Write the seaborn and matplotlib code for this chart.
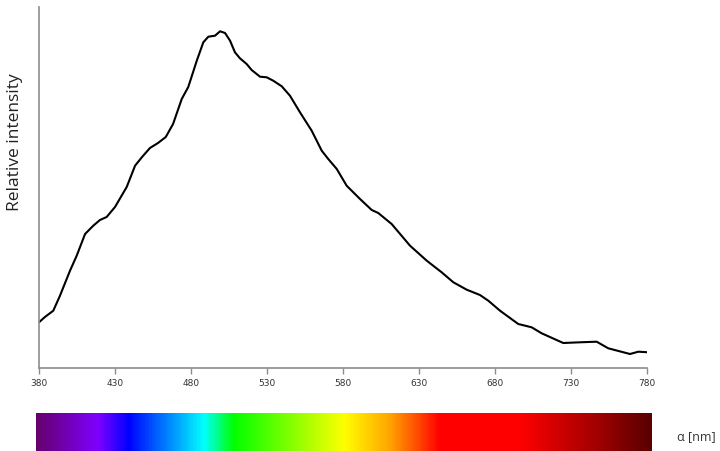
import numpy as np
import matplotlib
matplotlib.use("Agg")
import matplotlib.pyplot as plt
import seaborn as sns
import pandas as pd
from matplotlib.colors import LinearSegmentedColormap

sns.set_theme(style="white")
plt.rcParams['font.family'] = ['Open Sans', 'DejaVu Sans']

wavelength = [380, 383.9, 389.4, 393.8, 400.4, 404.8, 410.3, 415.7, 420.1, 424.5,
              430, 437.7, 443.2, 447.8, 453, 458.3, 463.4, 468.2, 473.9, 478.2,
              483.8, 488.1, 491.4, 495.8, 499.1, 502.4, 505.7, 508.9, 512.2, 516.6,
              519.9, 525.4, 529.8, 534.1, 539.7, 545.1, 551.7, 559.4, 566, 570.3,
              575.9, 582.4, 591.2, 598.9, 603.2, 612, 624.1, 635.1, 644.9, 652.6,
              661.4, 670.1, 675.6, 683.3, 695.3, 704.1, 710.7, 724.9, 735.9, 746.9,
              754.5, 768.8, 774.3, 780.9]
intensity = [45.7, 51, 57.3, 72.3, 97.3, 112.3, 134, 142.3, 148, 151,
             161, 181, 202.3, 211, 220, 225, 231, 244, 269, 281,
             307.3, 325.7, 331.3, 332.3, 336.7, 335, 327.3, 315.7, 309.7, 304,
             298, 291.3, 290.7, 287.3, 281.7, 272.3, 255.7, 237.3, 217.3, 209,
             199, 182.3, 169, 158, 155, 144, 122.3, 107.3, 95.7, 85.7,
             78.3, 73, 67.3, 57.3, 44, 40.7, 34.7, 25, 25.7, 26.3,
             19.7, 14, 16.3, 15.7]
xticks = [380, 430, 480, 530, 580, 630, 680, 730, 780]

spec_pos = [0.0, 0.0985, 0.149, 0.271, 0.320, 0.50, 0.575, 0.656, 0.786, 0.915, 1.0]
spec_col = ["#66006e", "#7f00ff", "#0000ff", "#00ffff", "#00ff00", "#ffff00",
            "#ffa500", "#ff0000", "#ff0000", "#a00000", "#5a0000"]

df = pd.DataFrame({"wl": wavelength, "I": intensity})

fig = plt.figure(figsize=(7.2, 4.52), dpi=100)
ax = fig.add_axes([39/720, 1-369/452, (647-39)/720, (369-8)/452])
sns.lineplot(data=df, x="wl", y="I", ax=ax, color="black", linewidth=1.5)
for l in ax.lines:
    l.set_solid_joinstyle("round")
ax.set_xlim(380, 780)
ax.set_ylim(0, 361)
ax.set_xticks(xticks)
ax.set_xticklabels([str(t) for t in xticks], fontsize=6.5, color="#333333",
                   family=['Liberation Sans Narrow', 'DejaVu Sans'])
ax.set_yticks([])
ax.set_xlabel("")
ax.set_ylabel("Relative intensity", fontsize=12.5, color="#222222")
ax.yaxis.set_label_coords(-16/608, (369-142)/361)
for s in ["top", "right"]:
    ax.spines[s].set_visible(False)
for s in ["left", "bottom"]:
    ax.spines[s].set_color("#8c8c8c")
    ax.spines[s].set_linewidth(1.2)
ax.tick_params(axis="x", bottom=True, direction="out", length=4, width=1, color="#8c8c8c", pad=3)

cmap = LinearSegmentedColormap.from_list("spec", list(zip(spec_pos, spec_col)))
cax = fig.add_axes([36/720, 0, (652-36)/720, 38/452])
cax.imshow(np.linspace(0, 1, 600)[None, :], aspect="auto", cmap=cmap, extent=[0, 1, 0, 1])
cax.set_axis_off()
fig.text(677/720, 1-437/452, "α [nm]", fontsize=9, color="#333333", va="center", ha="left")

fig.savefig("out.png", dpi=100)
